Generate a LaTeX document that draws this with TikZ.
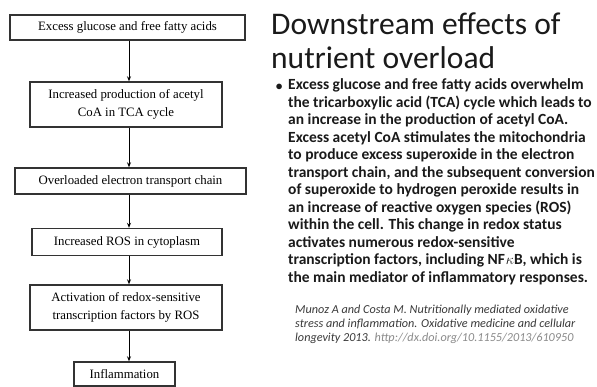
\documentclass[tikz,border=0pt]{standalone}
\usepackage{fontspec}
\setmainfont{Liberation Serif}
\newfontfamily\slidefont{Carlito}
\usepackage{tikz}
\usetikzlibrary{arrows.meta, positioning, calc}
\definecolor{boxline}{HTML}{333333}
\definecolor{slidetext}{HTML}{1A1A1A}
\definecolor{citetext}{HTML}{3A3A3A}
\definecolor{linkgray}{HTML}{8A8A8A}
\tikzset{
  flowbox/.style={draw=boxline, line width=1.4pt, fill=white, align=center,
                  inner sep=2pt, font=\fontsize{12.8}{17.5}\selectfont},
  arr/.style={-{Stealth[length=5pt, width=4pt]}, line width=0.9pt, black},
  titleline/.style={anchor=base west, inner sep=0pt, text=slidetext,
                    font=\slidefont\fontsize{31.5}{35}\selectfont},
}

\begin{document}
\begin{tikzpicture}[x=1pt, y=-1pt]
  \useasboundingbox[fill=white] (0,0) rectangle (597,387);

  %% Flow chart on the left
  \node[flowbox, minimum width=235pt, minimum height=25pt] (glucose) at (127.5,27.5)
    {Excess glucose and free fatty acids};
  \node[flowbox, minimum width=192pt, minimum height=45pt] (acetyl) at (126,104.5)
    {Increased production of acetyl\\CoA in TCA cycle};
  \node[flowbox, minimum width=231pt, minimum height=26pt] (etc) at (130.5,181)
    {Overloaded electron transport chain};
  \node[flowbox, minimum width=190pt, minimum height=27pt] (ros) at (127,242)
    {Increased ROS in cytoplasm};
  \node[flowbox, minimum width=192pt, minimum height=45pt] (redox) at (126,307.5)
    {Activation of redox-sensitive\\transcription factors by ROS};
  \node[flowbox, minimum width=101pt, minimum height=24pt] (inflam) at (124.5,374)
    {Inflammation};

  \coordinate (spine) at (129,0);
  \draw[arr] (glucose.south -| spine) -- (acetyl.north -| spine);
  \draw[arr] (acetyl.south -| spine) -- (etc.north -| spine);
  \draw[arr] (etc.south -| spine) -- (ros.north -| spine);
  \draw[arr] (ros.south -| spine) -- (redox.north -| spine);
  \draw[arr] (redox.south -| spine) -- (inflam.north -| spine);

  %% Slide text on the right
  \node[titleline] (title1) at (271,35) {Downstream effects of};
  \node[titleline] (title2) at (271,69) {nutrient overload};

  \node[anchor=north west, inner sep=0pt, align=left, text=slidetext,
        font=\slidefont\bfseries\fontsize{15.5}{17.5}\selectfont] (body) at (288,78.5)
    {Excess glucose and free fatty acids overwhelm\\
     the tricarboxylic acid (TCA) cycle which leads to\\
     an increase in the production of acetyl CoA.\\
     Excess acetyl CoA stimulates the mitochondria\\
     to produce excess superoxide in the electron\\
     transport chain, and the subsequent conversion\\
     of superoxide to hydrogen peroxide results in\\
     an increase of reactive oxygen species (ROS)\\
     within the cell. This change in redox status\\
     activates numerous redox-sensitive\\
     transcription factors, including NF\kern1pt$\kappa$B, which is\\
     the main mediator of inflammatory responses.};
  \node[anchor=base east, inner sep=0pt, text=slidetext, font=\slidefont\fontsize{15.5}{17.5}\selectfont]
    (bullet) at ($(body.north west)+(-5,12)$) {$\bullet$};

  \node[anchor=north west, inner sep=0pt, align=left, text=citetext,
        font=\slidefont\itshape\fontsize{12.2}{14}\selectfont] (cite) at (295,305)
    {Munoz A and Costa M. Nutritionally mediated oxidative\\
     stress and inflammation. Oxidative medicine and cellular\\
     longevity 2013. \textcolor{linkgray}{http://dx.doi.org/10.1155/2013/610950}};
\end{tikzpicture}
\end{document}
